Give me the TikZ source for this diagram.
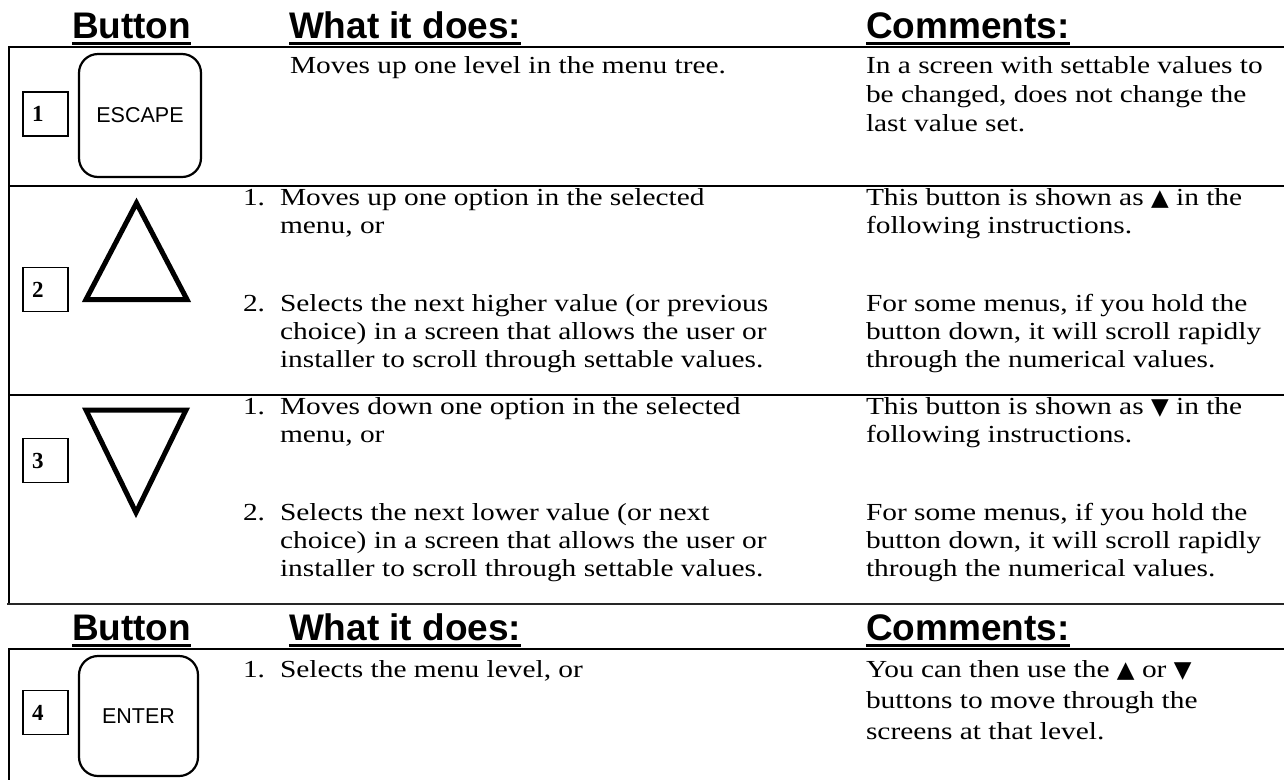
\documentclass[tikz,border=0pt]{standalone}
\usepackage{fontspec}
\setmainfont{Liberation Serif}
\newfontfamily\bodyfont[FakeStretch=1.2]{Liberation Serif}
\newfontfamily\headfont{Liberation Sans}
\newfontfamily\symfont{DejaVu Sans}
\newcommand\upsym{{\symfont\fontsize{23}{28}\selectfont ▲}}
\newcommand\dnsym{{\symfont\fontsize{23}{28}\selectfont ▼}}
\tikzset{
  body/.style={font=\bodyfont\fontsize{24.5}{28}\selectfont, anchor=base west, inner sep=0pt, outer sep=0pt},
  head/.style={font=\headfont\bfseries\fontsize{37}{40}\selectfont, anchor=base west, inner sep=0pt, outer sep=0pt},
  keybox/.style={draw, line width=2.2pt, rounded corners=19pt, inner sep=0pt, font=\headfont\fontsize{21.5}{24}\selectfont},
  numbox/.style={draw, line width=1.2pt, text width=27pt, align=left, inner xsep=9pt, inner ysep=0pt, minimum height=44pt, font=\bfseries\fontsize{23}{26}\selectfont},
  tablerule/.style={line width=2pt},
  uline/.style={line width=3.3pt},
  tri/.style={draw, line width=5pt, line join=miter, miter limit=10},
}
\begin{document}
\begin{tikzpicture}[x=1pt,y=-1pt]
\useasboundingbox (0,0) rectangle (1284,780);
\fill[white] (0,0) rectangle (1284,780);

% ---------- first header ----------
\node[head] (hb1) at (72,38) {Button};
\node[head] (hw1) at (289,38) {What it does:};
\node[head] (hc1) at (866,38) {Comments:};
\foreach \n in {hb1,hw1,hc1}
  \draw[uline] ([yshift=-5.4pt]\n.base west) -- ([yshift=-5.4pt]\n.base east);

% ---------- table 1 rules ----------
\draw[tablerule] (8.3,47) -- (1284,47);
\draw[tablerule] (9.3,47) -- (9.3,604);
\draw[tablerule] (9.3,185.5) -- (1284,185.5);
\draw[tablerule] (9.3,394.5) -- (1284,394.5);
\draw[line width=2.5pt, black!85] (7,604) -- (1284,604);

% ---------- row 1 ----------
\node[numbox] (n1) at (45.5,114) {1};
\node[keybox, minimum width=122pt, minimum height=123pt] (esc) at (140,115.5) {ESCAPE};
\node[body] (m1a) at (290,73) {Moves up one level in the menu tree.};
\node[body] (c1a) at (866,73) {In a screen with settable values to};
\node[body] (c1b) at (866,102) {be changed, does not change the};
\node[body] (c1c) at (866,131) {last value set.};

% ---------- row 2 ----------
\node[numbox] (n2) at (45.5,289.5) {2};
\draw[tri] (86,299.5) -- (187,299.5) -- (136.5,203) -- cycle;
\node[body] (l2a) at (243,205) {1.};
\node[body] (m2a) at (280,205) {Moves up one option in the selected};
\node[body] (m2b) at (280,233) {menu, or};
\node[body] (l2b) at (243,311) {2.};
\node[body] (m2c) at (280,311) {Selects the next higher value (or previous};
\node[body] (m2d) at (280,339) {choice) in a screen that allows the user or};
\node[body] (m2e) at (280,367) {installer to scroll through settable values.};
\node[body] (c2a) at (866,205) {This button is shown as \upsym{} in the};
\node[body] (c2b) at (866,233) {following instructions.};
\node[body] (c2c) at (866,311) {For some menus, if you hold the};
\node[body] (c2d) at (866,339) {button down, it will scroll rapidly};
\node[body] (c2e) at (866,367) {through the numerical values.};

% ---------- row 3 ----------
\node[numbox] (n3) at (45.5,460.5) {3};
\draw[tri] (86,410) -- (186,410) -- (136,512.5) -- cycle;
\node[body] (l3a) at (243,414) {1.};
\node[body] (m3a) at (280,414) {Moves down one option in the selected};
\node[body] (m3b) at (280,442) {menu, or};
\node[body] (l3b) at (243,520) {2.};
\node[body] (m3c) at (280,520) {Selects the next lower value (or next};
\node[body] (m3d) at (280,548) {choice) in a screen that allows the user or};
\node[body] (m3e) at (280,576) {installer to scroll through settable values.};
\node[body] (c3a) at (866,414) {This button is shown as \dnsym{} in the};
\node[body] (c3b) at (866,442) {following instructions.};
\node[body] (c3c) at (866,520) {For some menus, if you hold the};
\node[body] (c3d) at (866,548) {button down, it will scroll rapidly};
\node[body] (c3e) at (866,576) {through the numerical values.};

% ---------- second header ----------
\node[head] (hb2) at (72,640) {Button};
\node[head] (hw2) at (289,640) {What it does:};
\node[head] (hc2) at (866,640) {Comments:};
\foreach \n in {hb2,hw2,hc2}
  \draw[uline] ([yshift=-5.4pt]\n.base west) -- ([yshift=-5.4pt]\n.base east);

% ---------- table 2 rules ----------
\draw[tablerule] (8.3,648.5) -- (1284,648.5);
\draw[tablerule] (9.3,648.5) -- (9.3,780);

% ---------- row 4 ----------
\node[numbox] (n4) at (45.5,712.5) {4};
\node[keybox, minimum width=119pt, minimum height=120pt] (ent) at (138.5,716) {ENTER};
\node[body] (l4a) at (243,677) {1.};
\node[body] (m4a) at (280,677) {Selects the menu level, or};
\node[body] (c4a) at (866,677) {You can then use the \upsym{} or \dnsym};
\node[body] (c4b) at (866,708) {buttons to move through the};
\node[body] (c4c) at (866,739) {screens at that level.};
\end{tikzpicture}
\end{document}
